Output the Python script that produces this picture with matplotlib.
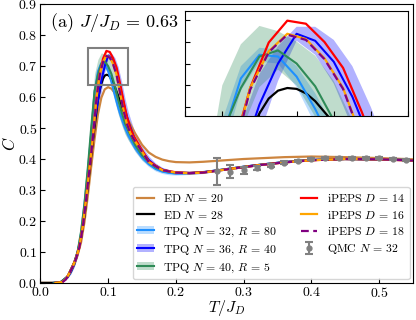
import matplotlib
matplotlib.use("Agg")
import matplotlib.pyplot as plt
from matplotlib.patches import Rectangle

plt.rcParams['font.family'] = 'serif'
plt.rcParams['font.serif'] = ['cmr10', 'DejaVu Serif']
plt.rcParams['mathtext.fontset'] = 'cm'
plt.rcParams['axes.unicode_minus'] = False
plt.rcParams['axes.formatter.use_mathtext'] = True

# ED data
T_ed20 = [0.0, 0.02, 0.03, 0.04, 0.05, 0.055, 0.06, 0.065, 0.07, 0.075,
          0.08, 0.085, 0.09, 0.095, 0.1, 0.105, 0.11, 0.115, 0.12, 0.13,
          0.14, 0.15, 0.16, 0.17, 0.18, 0.19, 0.2, 0.22, 0.24, 0.26,
          0.28, 0.3, 0.33, 0.36, 0.4, 0.45, 0.5, 0.55]
C_ed20 = [0.0, 0.0, 0.002, 0.018, 0.06, 0.09, 0.13, 0.195, 0.28, 0.375,
          0.465, 0.545, 0.598, 0.625, 0.632, 0.627, 0.612, 0.592, 0.57, 0.524,
          0.482, 0.446, 0.421, 0.407, 0.398, 0.393, 0.39, 0.389, 0.391, 0.394,
          0.397, 0.4, 0.403, 0.406, 0.408, 0.406, 0.403, 0.399]

T_ed28 = [0.0, 0.02, 0.03, 0.04, 0.05, 0.055, 0.06, 0.065, 0.07, 0.075,
          0.08, 0.085, 0.0875, 0.09, 0.0925, 0.095, 0.0975, 0.1, 0.1025, 0.105,
          0.11, 0.115, 0.12, 0.125]
C_ed28 = [0.0, 0.0, 0.002, 0.02, 0.066, 0.1, 0.145, 0.215, 0.31, 0.41,
          0.505, 0.59, 0.62, 0.643, 0.66, 0.669, 0.672, 0.671, 0.666, 0.657,
          0.632, 0.603, 0.572, 0.54]

# TPQ data (mean and error)
T_tpq = [0.02, 0.03, 0.04, 0.045, 0.05, 0.055, 0.06, 0.065, 0.07, 0.075,
         0.08, 0.085, 0.09, 0.095, 0.1, 0.105, 0.11, 0.115, 0.12, 0.125,
         0.13, 0.14, 0.15, 0.16, 0.17, 0.18, 0.19, 0.2, 0.22, 0.24,
         0.26, 0.28, 0.3, 0.33, 0.36, 0.4, 0.45, 0.5, 0.55]
C_tpq32 = [0.0, 0.002, 0.02, 0.037, 0.062, 0.097, 0.16, 0.25, 0.36, 0.48,
           0.615, 0.683, 0.71, 0.708, 0.685, 0.648, 0.605, 0.565, 0.53, 0.5,
           0.475, 0.435, 0.405, 0.383, 0.368, 0.359, 0.355, 0.353, 0.354, 0.358,
           0.363, 0.369, 0.375, 0.383, 0.39, 0.397, 0.4, 0.399, 0.396]
E_tpq32 = [0.0, 0.001, 0.003, 0.004, 0.006, 0.008, 0.012, 0.016, 0.02, 0.022,
           0.02, 0.014, 0.008, 0.008, 0.012, 0.018, 0.022, 0.02, 0.018, 0.016,
           0.014, 0.012, 0.01, 0.008, 0.007, 0.006, 0.006, 0.005, 0.004, 0.004,
           0.003, 0.003, 0.003, 0.002, 0.002, 0.002, 0.002, 0.002, 0.002]
C_tpq36 = [0.0, 0.002, 0.018, 0.035, 0.06, 0.095, 0.145, 0.22, 0.32, 0.43,
           0.52, 0.59, 0.653, 0.70, 0.734, 0.726, 0.702, 0.662, 0.61, 0.56,
           0.52, 0.46, 0.425, 0.397, 0.378, 0.366, 0.36, 0.356, 0.355, 0.357,
           0.363, 0.369, 0.375, 0.383, 0.39, 0.397, 0.4, 0.399, 0.396]
E_tpq36 = [0.0, 0.002, 0.004, 0.006, 0.008, 0.011, 0.015, 0.02, 0.025, 0.03,
           0.035, 0.04, 0.035, 0.02, 0.008, 0.016, 0.025, 0.035, 0.04, 0.035,
           0.03, 0.022, 0.016, 0.012, 0.009, 0.007, 0.006, 0.005, 0.004, 0.004,
           0.003, 0.003, 0.003, 0.003, 0.002, 0.002, 0.002, 0.002, 0.002]
C_tpq40 = [0.0, 0.002, 0.02, 0.037, 0.062, 0.1, 0.165, 0.255, 0.37, 0.5,
           0.62, 0.672, 0.708, 0.715, 0.70, 0.674, 0.635, 0.59, 0.55, 0.515,
           0.49, 0.445, 0.412, 0.39, 0.373, 0.364, 0.359, 0.356, 0.355, 0.357,
           0.363, 0.369, 0.375, 0.383, 0.39, 0.397, 0.4, 0.399, 0.396]
E_tpq40 = [0.0, 0.002, 0.005, 0.007, 0.01, 0.015, 0.02, 0.03, 0.04, 0.05,
           0.055, 0.05, 0.035, 0.022, 0.025, 0.035, 0.045, 0.045, 0.04, 0.035,
           0.03, 0.02, 0.015, 0.01, 0.008, 0.006, 0.005, 0.004, 0.004, 0.003,
           0.003, 0.003, 0.003, 0.002, 0.002, 0.002, 0.002, 0.002, 0.002]

# iPEPS data
T_peps = [0.0225, 0.0275, 0.0325, 0.0375, 0.0425, 0.0475, 0.0525, 0.0575, 0.0625, 0.0675,
          0.0725, 0.0775, 0.0825, 0.0875, 0.0925, 0.0975, 0.1025, 0.1075, 0.1125, 0.1175,
          0.1225, 0.1275, 0.1325, 0.1375, 0.1475, 0.16, 0.18, 0.2, 0.22, 0.24,
          0.26, 0.28, 0.3, 0.33, 0.36, 0.4, 0.45, 0.5, 0.55]
C_d14 = [0.0, 0.001, 0.003, 0.012, 0.03, 0.052, 0.078, 0.115, 0.18, 0.27,
         0.37, 0.47, 0.595, 0.672, 0.724, 0.749, 0.7455, 0.7246, 0.695, 0.645,
         0.59, 0.538, 0.5, 0.475, 0.438, 0.393, 0.365, 0.357, 0.355, 0.357,
         0.362, 0.368, 0.374, 0.382, 0.389, 0.396, 0.4, 0.399, 0.395]
C_d16 = [0.0, 0.001, 0.003, 0.012, 0.03, 0.052, 0.078, 0.115, 0.18, 0.27,
         0.37, 0.47, 0.59, 0.672, 0.714, 0.734, 0.728, 0.706, 0.672, 0.615,
         0.56, 0.515, 0.485, 0.465, 0.432, 0.39, 0.364, 0.356, 0.354, 0.356,
         0.362, 0.368, 0.374, 0.382, 0.389, 0.396, 0.4, 0.399, 0.395]
T_d18 = T_peps[2:]
C_d18 = [0.002, 0.011, 0.029, 0.051, 0.077, 0.114, 0.178, 0.268,
         0.368, 0.468, 0.588, 0.670, 0.713, 0.733, 0.727, 0.705, 0.671, 0.614,
         0.56, 0.515, 0.485, 0.465, 0.432, 0.39, 0.364, 0.356, 0.354, 0.356,
         0.362, 0.368, 0.374, 0.382, 0.389, 0.396, 0.4, 0.399, 0.395]

# QMC data
T_qmc = [0.26, 0.28, 0.30, 0.32, 0.34, 0.36, 0.38, 0.40, 0.42, 0.44, 0.46, 0.48, 0.50, 0.52, 0.54]
C_qmc = [0.36, 0.359, 0.363, 0.372, 0.379, 0.388, 0.394, 0.4, 0.402, 0.404, 0.404, 0.404, 0.402, 0.4, 0.397]
E_qmc = [0.043, 0.021, 0.012, 0.007, 0.005, 0.004, 0.003, 0.003, 0.003, 0.003, 0.003, 0.003, 0.003, 0.003, 0.003]

# zoom window
zoom_x = (0.07, 0.13)
zoom_y = (0.64, 0.76)


def draw(a):
    h = {}
    h['ed20'], = a.plot(T_ed20, C_ed20, color='peru', lw=1.6, zorder=2)
    h['ed28'], = a.plot(T_ed28, C_ed28, color='black', lw=1.6, zorder=2)
    for key, T, C, E, col in [('t32', T_tpq, C_tpq32, E_tpq32, '#1e90ff'),
                              ('t36', T_tpq, C_tpq36, E_tpq36, 'blue'),
                              ('t40', T_tpq, C_tpq40, E_tpq40, 'seagreen')]:
        lo = [c - e for c, e in zip(C, E)]
        hi = [c + e for c, e in zip(C, E)]
        band = a.fill_between(T, lo, hi, color=col, alpha=0.3, lw=0, zorder=1)
        ln, = a.plot(T, C, color=col, lw=1.5, zorder=2)
        h[key] = (band, ln)
    h['d14'], = a.plot(T_peps, C_d14, color='red', lw=1.6, zorder=3)
    h['d16'], = a.plot(T_peps, C_d16, color='orange', lw=1.6, zorder=3)
    h['d18'], = a.plot(T_d18, C_d18, color='purple', lw=1.6, ls=(0, (3.5, 2)), zorder=3)
    h['qmc'] = a.errorbar(T_qmc, C_qmc, yerr=E_qmc, color='gray', fmt='o', ms=3.5,
                          capsize=3, elinewidth=1.5, capthick=1.5, zorder=4)
    return h


fig = plt.figure(figsize=(4.16, 3.2), dpi=100)
ax = fig.add_axes([0.097, 0.116, 0.896, 0.871])
h = draw(ax)
ax.set_xlim(0, 0.55)
ax.set_ylim(0, 0.9)
ax.set_xticks([0.0, 0.1, 0.2, 0.3, 0.4, 0.5])
ax.tick_params(direction='in', labelsize=10, pad=2)
ax.set_xlabel(r'$T/J_D$', fontsize=11.5, labelpad=-1)
ax.set_ylabel(r'$C$', fontsize=12, labelpad=0)
ax.text(0.026, 0.935, r'(a) $J/J_D\,=\,0.63$', transform=ax.transAxes,
        fontsize=13, va='center')
ax.add_patch(Rectangle((zoom_x[0], zoom_y[0]), zoom_x[1] - zoom_x[0], zoom_y[1] - zoom_y[0],
                       fill=False, ec='gray', lw=1.5, zorder=5))

handles = [h['ed20'], h['ed28'], h['t32'], h['t36'], h['t40'],
           h['d14'], h['d16'], h['d18'], h['qmc']]
labels = [r'ED $N\,=\,20$', r'ED $N\,=\,28$', r'TPQ $N\,=\,32$, $R\,=\,80$',
          r'TPQ $N\,=\,36$, $R\,=\,40$', r'TPQ $N\,=\,40$, $R\,=\,5$',
          r'iPEPS $D\,=\,14$', r'iPEPS $D\,=\,16$', r'iPEPS $D\,=\,18$',
          r'QMC $N\,=\,32$']
leg = ax.legend(handles, labels, loc='lower right', ncol=2, fontsize=8.5,
                handlelength=1.4, borderaxespad=0.3, columnspacing=2.0,
                labelspacing=0.4)
leg.set_zorder(10)

axin = fig.add_axes([0.445, 0.6375, 0.536, 0.328])
draw(axin)
axin.set_xlim(*zoom_x)
axin.set_ylim(*zoom_y)
axin.set_xticks([0.07, 0.08, 0.09, 0.10, 0.11, 0.12, 0.13])
axin.set_yticks([0.65, 0.675, 0.70, 0.725, 0.75])
axin.tick_params(direction='in', labelbottom=False, labelleft=False)

fig.savefig('out.png', dpi=100)
